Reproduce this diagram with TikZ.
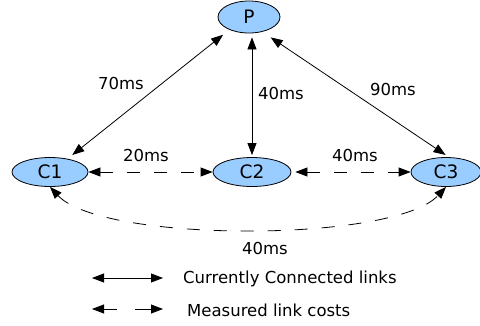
\documentclass[tikz,border=0pt]{standalone}
\usepackage{fontspec}
\setmainfont{DejaVu Sans}
\usepackage{tikz}
\usetikzlibrary{arrows.meta}
\usetikzlibrary{shapes.geometric}
\definecolor{HostBlue}{RGB}{153,204,255}

\begin{document}
\begin{tikzpicture}[x=1pt,y=-1pt,
    every node/.style={font=\fontsize{16.5}{19}\selectfont},
    host/.style={ellipse, draw, fill=HostBlue, line width=0.8pt, minimum width=76pt, minimum height=29pt, inner sep=0pt, font=\fontsize{18.5}{21}\selectfont},
    link/.style={{Triangle[length=12pt,width=9pt]}-{Triangle[length=12pt,width=9pt]}, line width=0.8pt},
    probe/.style={link, dash pattern=on 13pt off 14pt}]
\useasboundingbox (0,0) rectangle (480,325);
\node[host, minimum width=62pt, minimum height=32pt] (P) at (249,17) {P};
\node[host] (C1) at (50,172) {C1};
\node[host, minimum width=78pt] (C2) at (252,172) {C2};
\node[host, minimum width=70pt] (C3) at (446,172) {C3};
\draw[link, shorten <=8pt, shorten >=6pt] (P.213) -- (C1.37);
\draw[link, shorten <=4pt, shorten >=2pt] (C2.north |- P.south) -- (C2.north);
\draw[link, shorten <=10pt, shorten >=4pt] (P.312) -- (C3.79);
\draw[probe] (C1.east) -- (C2.west);
\draw[probe, shorten <=4pt] (C2.east) -- (C3.west);
\draw[probe] (C1.south) .. controls +(52,56) and +(-52,56) .. (C3.south);
\node (t70) at (121,83) {70ms};
\node (t40a) at (281,93) {40ms};
\node (t90) at (393,89) {90ms};
\node (t20) at (146,155) {20ms};
\node (t40b) at (355,155) {40ms};
\node (t40c) at (265,248) {40ms};
\coordinate (solidL) at (92,278);
\coordinate (solidR) at (163,278);
\coordinate (dashL) at (92,309);
\coordinate (dashR) at (163,309);
\draw[link] (solidL) -- (solidR);
\draw[link, dash pattern=on 13pt off 18pt on 30pt] (dashL) -- (dashR);
\node[anchor=west, inner sep=0pt] (keySolid) at (183,279) {Currently Connected links};
\node[anchor=west, inner sep=0pt] (keyDash) at (187,310) {Measured link costs};
\end{tikzpicture}
\end{document}
